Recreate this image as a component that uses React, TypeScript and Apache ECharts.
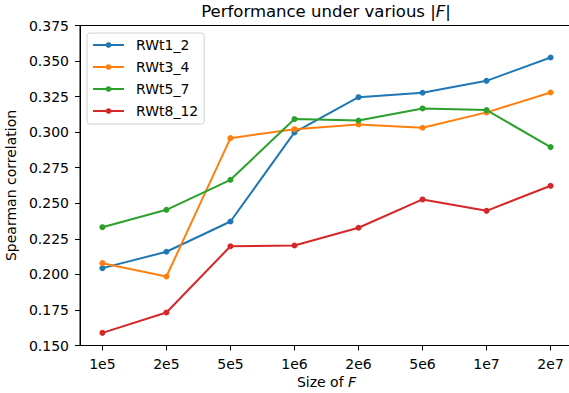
import React, { useEffect, useRef } from "react";
import * as echarts from "echarts";

const categories = ["1e5", "2e5", "5e5", "1e6", "2e6", "5e6", "1e7", "2e7"];
const seriesNames = ["RWt1_2", "RWt3_4", "RWt5_7", "RWt8_12"];
const rwt1_2 = [0.2044, 0.2159, 0.2372, 0.2998, 0.3246, 0.3277, 0.3361, 0.3525];
const rwt3_4 = [0.2079, 0.1985, 0.2958, 0.3021, 0.3054, 0.3031, 0.3139, 0.3279];
const rwt5_7 = [0.2332, 0.2454, 0.2665, 0.3092, 0.3082, 0.3167, 0.3155, 0.2895];
const rwt8_12 = [0.1589, 0.1732, 0.2198, 0.2203, 0.2328, 0.2527, 0.2447, 0.2623];
const colors = ["#1f77b4", "#ff7f0e", "#2ca02c", "#d62728"];

const FONT = "DejaVu Sans";

export default function App() {
  const ref = useRef<HTMLDivElement>(null);
  useEffect(() => {
    if (!ref.current) return;
    const chart = echarts.init(ref.current, undefined, { renderer: "svg" });
    const allData = [rwt1_2, rwt3_4, rwt5_7, rwt8_12];
    const idx = categories.map((_, i) => i);
    chart.setOption({
      animation: false,
      textStyle: { fontFamily: FONT },
      grid: {
        left: 80,
        right: -4,
        top: 25.5,
        bottom: 47.5,
        containLabel: false,
        outerBoundsMode: "none",
        show: true,
        borderColor: "#000",
        borderWidth: 1,
        backgroundColor: "transparent",
      },
      graphic: [
        {
          type: "text",
          x: 326,
          y: 11.5,
          style: {
            text: "Performance under various |{i|F}|",
            fontFamily: FONT,
            fontSize: 16.5,
            fill: "#000",
            align: "center",
            verticalAlign: "middle",
            rich: {
              i: { fontStyle: "italic", fontFamily: FONT, fontSize: 16.5, fill: "#000" },
            },
          },
        },
      ],
      legend: {
        orient: "vertical",
        left: 87,
        top: 33,
        padding: [5, 6, 6, 5],
        itemGap: 8,
        itemWidth: 31,
        itemHeight: 7,
        backgroundColor: "rgba(255,255,255,0.8)",
        borderColor: "#d0d0d0",
        borderWidth: 1,
        borderRadius: 3,
        data: seriesNames,
        textStyle: {
          fontFamily: FONT,
          fontSize: 14,
          color: "#000",
          lineHeight: 14,
          padding: [0, 0, 0, 7],
        },
      },
      xAxis: {
        type: "value",
        min: -0.35,
        max: 7.35,
        name: "Size of {i|F}",
        nameLocation: "middle",
        nameGap: 29,
        nameTextStyle: {
          fontFamily: FONT,
          fontSize: 14,
          color: "#000",
          rich: { i: { fontStyle: "italic", fontFamily: FONT, fontSize: 14, color: "#000" } },
        },
        axisLine: { show: true, onZero: false, lineStyle: { color: "#000", width: 1 } },
        axisTick: {
          show: true,
          length: 5,
          inside: false,
          customValues: idx,
          lineStyle: { color: "#000", width: 1 },
        },
        axisLabel: {
          customValues: idx,
          margin: 11,
          fontFamily: FONT,
          fontSize: 14,
          color: "#000",
          formatter: (v: number) => categories[Math.round(v)] ?? "",
        },
        splitLine: { show: false },
      },
      yAxis: {
        type: "value",
        min: 0.15,
        max: 0.375,
        interval: 0.025,
        name: "Spearman correlation",
        nameLocation: "middle",
        nameGap: 55,
        nameTextStyle: { fontFamily: FONT, fontSize: 14, color: "#000" },
        axisLine: { show: true, onZero: false, lineStyle: { color: "#000", width: 1 } },
        axisTick: { show: true, length: 5, inside: false, lineStyle: { color: "#000", width: 1 } },
        axisLabel: {
          margin: 11,
          fontFamily: FONT,
          fontSize: 14,
          color: "#000",
          formatter: (v: number) => v.toFixed(3),
        },
        splitLine: { show: false },
      },
      series: seriesNames.map((name, s) => ({
        name,
        type: "line",
        data: allData[s].map((v, i) => [i, v]),
        symbol: "circle",
        symbolSize: 6,
        showSymbol: true,
        color: colors[s],
        lineStyle: { color: colors[s], width: 2 },
        itemStyle: { color: colors[s] },
        z: 2 + s,
      })),
    });
    return () => chart.dispose();
  }, []);
  return (
    <div
      ref={ref}
      style={{ position: "fixed", left: 0, top: 0, width: 569, height: 393, background: "#fff" }}
    />
  );
}
